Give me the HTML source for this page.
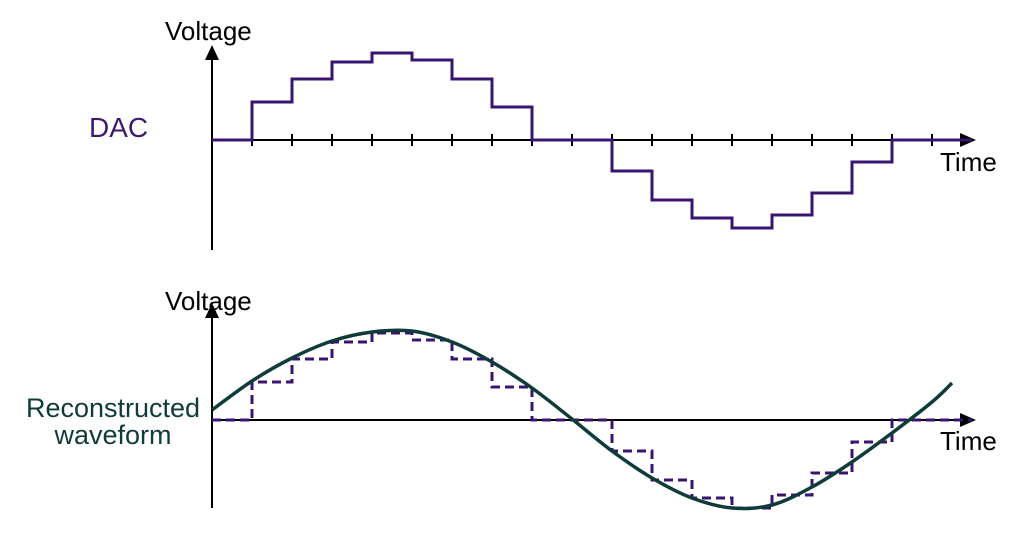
<!DOCTYPE html>
<html><head><meta charset="utf-8"><style>
html,body{margin:0;padding:0;background:#fff;}
svg{display:block;font-family:"Liberation Sans",sans-serif;}
</style></head><body>
<svg id="c" width="1034" height="537" viewBox="0 0 1034 537">
<g>
<line x1="212" y1="250" x2="212" y2="58" stroke="#000" stroke-width="2"/>
<polygon points="205,60 219,60 212,45" fill="#000"/>
<line x1="212" y1="140" x2="962" y2="140" stroke="#000" stroke-width="2"/>
<polygon points="960,133 960,147 976,140" fill="#000"/>
<text x="165" y="40" font-size="26">Voltage</text>
<text x="940" y="171" font-size="26">Time</text>
<text x="89" y="137" font-size="28" fill="#3d1a6e">DAC</text>
<g id="ticks"></g>
<path id="topStep" fill="none" stroke="#3a1470" stroke-width="3"/>
</g>
<g>
<line x1="212" y1="508" x2="212" y2="316" stroke="#000" stroke-width="2"/>
<polygon points="205,318 219,318 212,303" fill="#000"/>
<line x1="212" y1="420" x2="962" y2="420" stroke="#000" stroke-width="2"/>
<polygon points="960,413 960,427 976,420" fill="#000"/>
<text x="165" y="310" font-size="26">Voltage</text>
<text x="940" y="450" font-size="26">Time</text>
<text x="113" y="417" font-size="27" fill="#0f3b3a" text-anchor="middle">Reconstructed</text>
<text x="113" y="444" font-size="27" fill="#0f3b3a" text-anchor="middle">waveform</text>
<path id="botStep" fill="none" stroke="#3a1470" stroke-width="3" stroke-dasharray="9,5"/>
<path id="sine" fill="none" stroke="#0f3b3a" stroke-width="3.5"/>
</g>
</svg>
<script>
// sample index and DAC output level
const samples = [0,1,2,3,4,5,6,7,8,9,10,11,12,13,14,15,16,17,18];
const levels = [0,38,61,78,87,80,61,33,0,0,-31,-60,-78,-88,-75,-53,-22,0,0];
// reconstructed waveform: time (sample units) and voltage
const waveT = [0,1,2,3,4,5,6,7,8,9,10,11,12,13,14,15,16,17,18,18.5];
const waveV = [10,39,62,79,88,89,78,58,32,1,-31,-58,-78,-88,-85,-67,-42,-13,18,37];

const x = t => 212 + t*40;
const yTop = v => 140 - v;
const yBot = v => 420 - v;
const NS = "http://www.w3.org/2000/svg";

const tg = document.getElementById('ticks');
for (let i = 1; i < samples.length; i++) {
  const l = document.createElementNS(NS,'line');
  l.setAttribute('x1', x(samples[i])); l.setAttribute('x2', x(samples[i]));
  l.setAttribute('y1', 134); l.setAttribute('y2', 146);
  l.setAttribute('stroke','#000'); l.setAttribute('stroke-width','2');
  
  
  tg.appendChild(l);
}
function stepPath(y) {
  let d = `M${x(0)},${y(levels[0])}`;
  for (let i = 0; i < samples.length; i++) {
    d += ` L${x(samples[i])},${y(levels[i])} L${x(samples[i]+1)},${y(levels[i])}`;
  }
  return d;
}
document.getElementById('topStep').setAttribute('d', stepPath(yTop));
document.getElementById('botStep').setAttribute('d', stepPath(yBot));

const P = waveT.map((t,i)=>[x(t), yBot(waveV[i])]);
let d = `M${P[0][0]},${P[0][1]}`;
for (let i = 0; i < P.length-1; i++) {
  const p0 = P[i-1]||P[i], p1=P[i], p2=P[i+1], p3=P[i+2]||P[i+1];
  const c1=[p1[0]+(p2[0]-p0[0])/6, p1[1]+(p2[1]-p0[1])/6];
  const c2=[p2[0]-(p3[0]-p1[0])/6, p2[1]-(p3[1]-p1[1])/6];
  d += ` C${c1[0]},${c1[1]} ${c2[0]},${c2[1]} ${p2[0]},${p2[1]}`;
}
document.getElementById('sine').setAttribute('d', d);
</script>
</body></html>
